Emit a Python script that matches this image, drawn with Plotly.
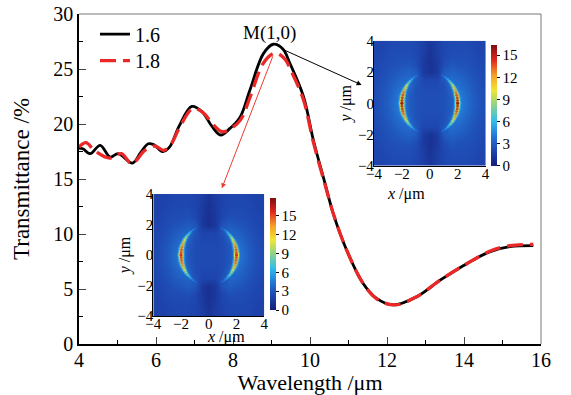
import numpy as np
import plotly.graph_objects as go

# ---------------- data ----------------
wl_16 = [4.0, 4.1, 4.29, 4.55, 4.81, 5.02, 5.39, 5.6, 5.8, 5.95, 6.17, 6.35, 6.6, 6.93,
         7.2, 7.45, 7.68, 7.92, 8.18, 8.44, 8.79, 9.05, 9.3, 9.48, 9.83, 10.09, 10.39,
         10.6, 10.95, 11.38, 11.73, 12.16, 12.77, 13.38, 14.07, 14.68, 15.19, 15.8]
T_16 = [17.8, 17.75, 17.3, 18.05, 17.0, 17.3, 16.45, 17.4, 18.2, 18.1, 17.5, 17.9, 19.8, 21.6,
        21.1, 19.8, 19.0, 19.6, 20.6, 23.1, 26.4, 27.25, 26.8, 25.5, 22.5, 18.5, 14.6,
        11.9, 8.55, 5.5, 4.15, 3.55, 4.3, 5.8, 7.3, 8.4, 8.85, 8.95]

wl_18 = [4.0, 4.18, 4.4, 4.8, 5.1, 5.37, 5.71, 5.97, 6.2, 6.4, 6.6, 6.95, 7.2, 7.5, 7.72,
         7.95, 8.2, 8.45, 8.8, 9.1, 9.35, 9.5, 9.83, 10.09, 10.39, 10.6, 10.95, 11.38,
         11.73, 12.2, 12.77, 13.38, 14.07, 14.68, 15.19, 15.8]
T_18 = [17.9, 18.3, 17.6, 16.9, 17.3, 16.4, 17.6, 18.0, 17.6, 18.2, 19.6, 21.4, 21.1, 19.9, 19.3,
        19.6, 20.4, 22.5, 25.6, 26.45, 25.9, 24.9, 22.2, 18.3, 14.5, 11.9, 8.55, 5.5,
        4.1, 3.55, 4.3, 5.8, 7.3, 8.45, 8.95, 9.05]

x_ticks = [4, 6, 8, 10, 12, 14, 16]
y_ticks = [0, 5, 10, 15, 20, 25, 30]
inset_ticks = [-4, -2, 0, 2, 4]
inset_ticktext = ["\u22124", "\u22122", "0", "2", "4"]
cbar_ticks = [0, 3, 6, 9, 12, 15]

# field map, one quadrant (rows: y = 0..4 step 0.5, cols: x = 0..4 step 0.5)
field_coords = [0, 0.5, 1.0, 1.5, 2.0, 2.5, 3.0, 3.5, 4.0]
field_quadrant = [
    [2.4, 2.4, 2.5, 2.9, 4.6, 3.8, 3.1, 2.6, 2.3],
    [2.4, 2.4, 2.5, 3.0, 4.4, 3.7, 3.0, 2.6, 2.3],
    [2.3, 2.3, 2.5, 3.4, 3.9, 3.4, 2.9, 2.5, 2.3],
    [2.1, 2.1, 2.8, 3.6, 3.4, 3.1, 2.7, 2.4, 2.2],
    [1.1, 1.5, 2.9, 3.2, 3.0, 2.8, 2.5, 2.3, 2.1],
    [1.0, 1.5, 2.3, 2.7, 2.6, 2.5, 2.4, 2.2, 2.1],
    [1.1, 1.6, 2.2, 2.4, 2.4, 2.4, 2.3, 2.1, 2.0],
    [1.2, 1.7, 2.1, 2.3, 2.3, 2.3, 2.2, 2.0, 2.0],
    [1.3, 1.8, 2.1, 2.2, 2.2, 2.2, 2.1, 2.0, 2.0],
]
# bright crescent, one quadrant
arc_x = [2.00, 1.99, 1.97, 1.93, 1.88, 1.81, 1.73, 1.64, 1.53, 1.41, 1.29, 1.15, 1.00, 0.91]
arc_y = [0.00, 0.17, 0.35, 0.52, 0.68, 0.85, 1.00, 1.15, 1.29, 1.41, 1.53, 1.64, 1.73, 1.78]
arc_core = [16.0, 15.8, 15.3, 14.5, 13.5, 12.3, 11.0, 9.6, 8.3, 7.0, 5.8, 4.8, 4.0, 3.4]
arc_mid = [11.0, 10.8, 10.4, 9.9, 9.3, 8.6, 7.8, 7.0, 6.2, 5.5, 4.8, 4.2, 3.6, 3.2]
arc_glow = [6.0, 6.0, 5.8, 5.6, 5.4, 5.1, 4.8, 4.5, 4.2, 3.9, 3.6, 3.3, 3.1, 2.9]
cmax_16 = 16.4
cmax_18 = 17.8

# ---------------- styles ----------------
glow_size = [7, 7, 7, 6.8, 6.5, 6.2, 5.8, 5.4, 5.0, 4.6, 4.2, 3.8, 3.4, 3.0]
mid_size = [5.0, 5.0, 4.9, 4.7, 4.5, 4.2, 4.0, 3.7, 3.4, 3.1, 2.9, 2.7, 2.5, 2.3]
core_size = [3.0, 3.0, 3.0, 2.9, 2.8, 2.7, 2.6, 2.5, 2.4, 2.3, 2.2, 2.1, 2.0, 1.8]
FONT = "Liberation Serif"
jet = [[0.0, "rgb(20,30,120)"], [0.125, "rgb(30,70,175)"], [0.25, "rgb(35,120,215)"],
       [0.375, "rgb(50,190,235)"], [0.5, "rgb(140,210,140)"], [0.625, "rgb(240,230,50)"],
       [0.75, "rgb(245,160,40)"], [0.875, "rgb(225,40,30)"], [1.0, "rgb(125,15,15)"]]

q = np.array(field_quadrant)
rows = np.vstack([q[:0:-1], q])
field_full = np.hstack([rows[:, :0:-1], rows])
fc = np.array(field_coords)
coords_full = np.concatenate([-fc[:0:-1], fc])


def mirror4(vx, vy, v):
    xs, ys, vs = [], [], []
    for sx, sy in [(1, 1), (1, -1), (-1, 1), (-1, -1)]:
        xs += [sx * a for a in vx]
        ys += [sy * b for b in vy]
        vs += list(v)
    return xs, ys, vs


fig = go.Figure()
fig.add_trace(go.Scatter(x=wl_16, y=T_16, mode="lines", name="1.6", line_shape="spline",
                         legend="legend", line=dict(color="black", width=2.8)))
fig.add_trace(go.Scatter(x=wl_18, y=T_18, mode="lines", name="1.8", line_shape="spline",
                         legend="legend2",
                         line=dict(color="rgb(235,40,40)", width=3.3, dash="16px,7px")))

for xa, ya, cax in [("x2", "y2", "coloraxis"), ("x3", "y3", "coloraxis2")]:
    fig.add_trace(go.Heatmap(x=coords_full, y=coords_full, z=field_full, coloraxis=cax,
                             zsmooth="best", xaxis=xa, yaxis=ya, hoverinfo="skip"))
    for vals, sizes in [(arc_glow, glow_size), (arc_mid, mid_size), (arc_core, core_size)]:
        xs, ys, vs = mirror4(arc_x, arc_y, vals)
        _, _, ss = mirror4(arc_x, arc_y, sizes)
        fig.add_trace(go.Scatter(x=xs, y=ys, mode="markers", xaxis=xa, yaxis=ya,
                                 showlegend=False, hoverinfo="skip",
                                 marker=dict(color=vs, coloraxis=cax, size=ss,
                                             line=dict(width=0))))

inset_axis = dict(range=[-4, 4], showgrid=False, zeroline=False, showline=True,
                  linecolor="black", linewidth=1.2, ticks="", tickvals=inset_ticks,
                  ticktext=inset_ticktext, tickfont=dict(size=15, family=FONT),
                  automargin=False)
inset_x = dict(inset_axis, ticklabelstandoff=-6)
inset_y = dict(inset_axis, ticklabelstandoff=-4)


def cbar(x, y, length):
    return dict(x=x, xanchor="left", y=y, yanchor="middle", len=length, lenmode="pixels",
                thickness=6, thicknessmode="pixels", xpad=0, ypad=0, outlinewidth=0,
                tickvals=cbar_ticks, ticks="outside", ticklen=3, tickcolor="black",
                tickfont=dict(size=15, family=FONT))


legend_style = dict(xanchor="left", yanchor="top", bgcolor="rgba(0,0,0,0)",
                    font=dict(size=20, family=FONT))

fig.update_layout(
    template="none",
    width=571, height=395, margin=dict(l=79, r=30, t=14, b=51, autoexpand=False),
    paper_bgcolor="white", plot_bgcolor="white",
    font=dict(family=FONT, color="black", size=20),
    xaxis=dict(range=[4, 16], tickvals=x_ticks, ticks="inside", ticklen=7, tickwidth=1.2,
               showline=True, linecolor="black", linewidth=1.6, showgrid=False, zeroline=False,
               minor=dict(dtick=1, ticks="inside", ticklen=4, tickwidth=1.2, tickcolor="black"),
               tickfont=dict(size=20), automargin=False, ticklabelstandoff=-3,
               title=dict(text="\u00a0\u00a0Wavelength /\u03bcm", font=dict(size=22),
                          standoff=2)),
    yaxis=dict(range=[0, 30], tickvals=y_ticks, ticks="inside", ticklen=7, tickwidth=1.2,
               showline=True, linecolor="black", linewidth=1.6, showgrid=False, zeroline=False,
               minor=dict(dtick=2.5, ticks="inside", ticklen=4, tickwidth=1.2, tickcolor="black"),
               tickfont=dict(size=20), automargin=False,
               title=dict(text="Transmittance /%", font=dict(size=23), standoff=17)),
    xaxis2=dict(inset_x, domain=[0.6385, 0.880], anchor="y2"),
    yaxis2=dict(inset_y, domain=[0.540, 0.919], anchor="x2",
                title=dict(text="<i>y</i> /\u03bcm", font=dict(size=16), standoff=2)),
    xaxis3=dict(inset_x, domain=[0.1608, 0.401], anchor="y3"),
    yaxis3=dict(inset_y, domain=[0.0848, 0.4545], anchor="x3",
                title=dict(text="<i>y</i> /\u03bcm", font=dict(size=16), standoff=2)),
    coloraxis=dict(cmin=0, cmax=cmax_16, colorscale=jet, colorbar=cbar(0.891, 0.723, 121)),
    coloraxis2=dict(cmin=0, cmax=cmax_18, colorscale=jet, colorbar=cbar(0.4134, 0.2727, 112)),
    legend=dict(legend_style, x=0.0346, y=0.998),
    legend2=dict(legend_style, x=0.0346, y=0.918),
    showlegend=True,
)

# top / right frame lines
fig.add_shape(type="line", xref="paper", yref="paper", x0=0, x1=1, y0=1, y1=1,
              line=dict(color="#777", width=1))
fig.add_shape(type="line", xref="paper", yref="paper", x0=1, x1=1, y0=0, y1=1,
              line=dict(color="#777", width=1))

anns = [
    dict(x=8.96, y=28.3, xref="x", yref="y", text="M(1,0)", showarrow=False,
         font=dict(size=19)),
    dict(x=11.34, y=23.55, ax=9.22, ay=26.9, xref="x", yref="y", axref="x", ayref="y",
         text="", showarrow=True, arrowhead=2, arrowsize=1, arrowwidth=1, arrowcolor="black"),
    dict(x=7.71, y=14.15, ax=9.05, ay=26.3, xref="x", yref="y", axref="x", ayref="y",
         text="", showarrow=True, arrowhead=2, arrowsize=1, arrowwidth=1,
         arrowcolor="rgb(235,60,50)"),
    # inset x-axis titles
    dict(x=0.752, y=0.4545, xref="paper", yref="paper", text="<i>x</i> /\u03bcm",
         showarrow=False, font=dict(size=16), yanchor="middle", borderpad=0),
    dict(x=0.274, y=0.0197, xref="paper", yref="paper", text="<i>x</i> /\u03bcm",
         showarrow=False, font=dict(size=16), yanchor="middle", borderpad=0),
]
for xr, yr in [("x2", "y2"), ("x3", "y3")]:
    anns.append(dict(x=-4, y=4.5, xref=xr, yref=yr, ax=0, ay=10, text="", showarrow=True,
                     arrowhead=2, arrowsize=0.8, arrowwidth=1.2, arrowcolor="black"))
    anns.append(dict(x=4.55, y=-4, xref=xr, yref=yr, ax=-8, ay=0, text="", showarrow=True,
                     arrowhead=2, arrowsize=0.8, arrowwidth=1.2, arrowcolor="black"))
fig.update_layout(annotations=anns)

fig.write_html("out.html", config={"displayModeBar": False},
               post_script="document.body.style.margin='0';document.body.style.overflow='hidden';")
